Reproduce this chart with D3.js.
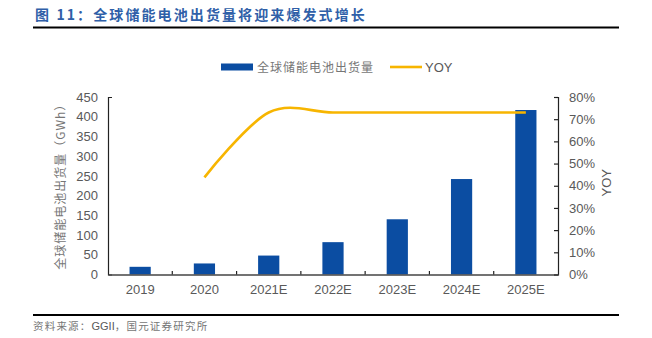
<!DOCTYPE html>
<html>
<head>
<meta charset="utf-8">
<script src="https://cdn.jsdelivr.net/npm/d3@7/dist/d3.min.js"></script>
<style>
  html, body { margin: 0; padding: 0; background: #fff; }
  svg { display: block; }
  .tick text { fill: #595959; }
</style>
</head>
<body>
<svg id="chart" width="652" height="338"></svg>
<script>
// Global energy-storage battery shipments (GWh) and year-on-year growth
const years = ["2019", "2020", "2021E", "2022E", "2023E", "2024E", "2025E"];
const shipments = [19.5, 28, 48, 82, 140, 242, 417];
const yoyYears = ["2020", "2021E", "2022E", "2023E", "2024E", "2025E"];
const yoy = [0.438, 0.73, 0.73, 0.73, 0.73, 0.73];
const leftTicks = [0, 50, 100, 150, 200, 250, 300, 350, 400, 450];
const rightTicks = [0, 0.1, 0.2, 0.3, 0.4, 0.5, 0.6, 0.7, 0.8];

const svg = d3.select("#chart");
const latin = "'Liberation Sans', Arial, sans-serif";
const cjk = "'Noto Sans CJK SC', 'Noto Sans', sans-serif";
const grey = "#595959";
const cjkGrey = "#767676";
const barColor = "#0b4da2";
const lineColor = "#f7b500";

const plot = { left: 108, right: 558, top: 97, bottom: 274.5 };

// Title and rules
svg.append("text")
  .attr("x", 35).attr("y", 20)
  .attr("font-family", cjk).attr("font-size", 14).attr("font-weight", "bold")
  .attr("fill", "#2f5fa8").attr("letter-spacing", 2.1)
  .text("图 11：全球储能电池出货量将迎来爆发式增长");
svg.append("line").attr("x1", 33).attr("x2", 619).attr("y1", 27.5).attr("y2", 27.5)
  .attr("stroke", "#000").attr("stroke-width", 2);
svg.append("line").attr("x1", 33).attr("x2", 619).attr("y1", 315).attr("y2", 315)
  .attr("stroke", "#000").attr("stroke-width", 2);
const src = svg.append("text")
  .attr("x", 33).attr("y", 330)
  .attr("font-family", cjk).attr("font-size", 10.5).attr("fill", cjkGrey);
src.append("tspan").attr("letter-spacing", 1.2).text("资料来源：");
src.append("tspan").attr("font-family", latin).attr("font-size", 11).attr("fill", grey).text("GGII");
src.append("tspan").attr("letter-spacing", 1.2).text("，国元证券研究所");

// Scales
const x = d3.scaleBand().domain(years).range([plot.left, plot.right]).paddingInner(0).paddingOuter(0);
const yL = d3.scaleLinear().domain([0, 450]).range([plot.bottom, plot.top]);
const yR = d3.scaleLinear().domain([0, 0.8]).range([plot.bottom, plot.top]);

// Bars
const barW = x.bandwidth() * 0.33;
svg.append("g").selectAll("rect").data(years).join("rect")
  .attr("x", (d) => x(d) + (x.bandwidth() - barW) / 2)
  .attr("width", barW)
  .attr("y", (d, i) => yL(shipments[i]))
  .attr("height", (d, i) => yL(0) - yL(shipments[i]))
  .attr("fill", barColor);

// YOY line (smoothed)
const line = d3.line()
  .x((d, i) => x(yoyYears[i]) + x.bandwidth() / 2)
  .y((d) => yR(d))
  .curve(d3.curveCatmullRom.alpha(0));
svg.append("path").datum(yoy)
  .attr("d", line)
  .attr("fill", "none").attr("stroke", lineColor).attr("stroke-width", 2.6);

// Left axis
const axL = svg.append("g").attr("transform", `translate(${plot.left},0)`)
  .call(d3.axisLeft(yL).tickValues(leftTicks).tickSizeInner(0).tickSizeOuter(-4).tickPadding(10));
axL.select(".domain").attr("stroke", "#222").attr("stroke-width", 1.2);
axL.selectAll(".tick text").attr("font-family", latin).attr("font-size", 13).attr("fill", grey);

// Right axis
const axR = svg.append("g").attr("transform", `translate(${plot.right},0)`)
  .call(d3.axisRight(yR).tickValues(rightTicks).tickSizeInner(-4).tickSizeOuter(-4).tickPadding(11)
    .tickFormat(d3.format(".0%")));
axR.select(".domain").attr("stroke", "#222").attr("stroke-width", 1.2);
axR.selectAll(".tick line").attr("stroke", "#222").attr("stroke-width", 1.2);
axR.selectAll(".tick text").attr("font-family", latin).attr("font-size", 13).attr("fill", grey);

// Bottom axis: ticks between categories, pointing up into the plot
const axB = svg.append("g").attr("transform", `translate(0,${plot.bottom})`)
  .call(d3.axisBottom(x).tickSize(0).tickPadding(10));
axB.select(".domain").attr("stroke", "#444").attr("stroke-width", 1.5);
axB.selectAll(".tick text").attr("font-family", latin).attr("font-size", 13).attr("fill", grey);
svg.append("g").selectAll("line").data(years.slice(1)).join("line")
  .attr("x1", (d) => x(d)).attr("x2", (d) => x(d))
  .attr("y1", plot.bottom).attr("y2", plot.bottom - 3.5)
  .attr("stroke", "#222").attr("stroke-width", 1.2);

// Axis titles
svg.append("text")
  .attr("transform", `translate(65,${(plot.top + plot.bottom) / 2 - 2}) rotate(-90)`)
  .attr("text-anchor", "middle")
  .attr("font-family", cjk).attr("font-size", 12).attr("fill", cjkGrey).attr("letter-spacing", 1)
  .text("全球储能电池出货量（GWh）");
svg.append("text")
  .attr("transform", `translate(611,${(plot.top + plot.bottom) / 2 - 3}) rotate(-90)`)
  .attr("text-anchor", "middle")
  .attr("font-family", latin).attr("font-size", 13).attr("fill", grey)
  .text("YOY");

// Legend
const lg = svg.append("g");
lg.append("rect").attr("x", 221).attr("y", 63.5).attr("width", 32).attr("height", 7).attr("fill", barColor);
lg.append("text").attr("x", 257).attr("y", 72)
  .attr("font-family", cjk).attr("font-size", 12).attr("fill", cjkGrey).attr("letter-spacing", 1)
  .text("全球储能电池出货量");
lg.append("line").attr("x1", 390).attr("x2", 422).attr("y1", 67).attr("y2", 67)
  .attr("stroke", lineColor).attr("stroke-width", 2.6);
lg.append("text").attr("x", 425).attr("y", 72)
  .attr("font-family", latin).attr("font-size", 13).attr("fill", grey)
  .text("YOY");
</script>
</body>
</html>
